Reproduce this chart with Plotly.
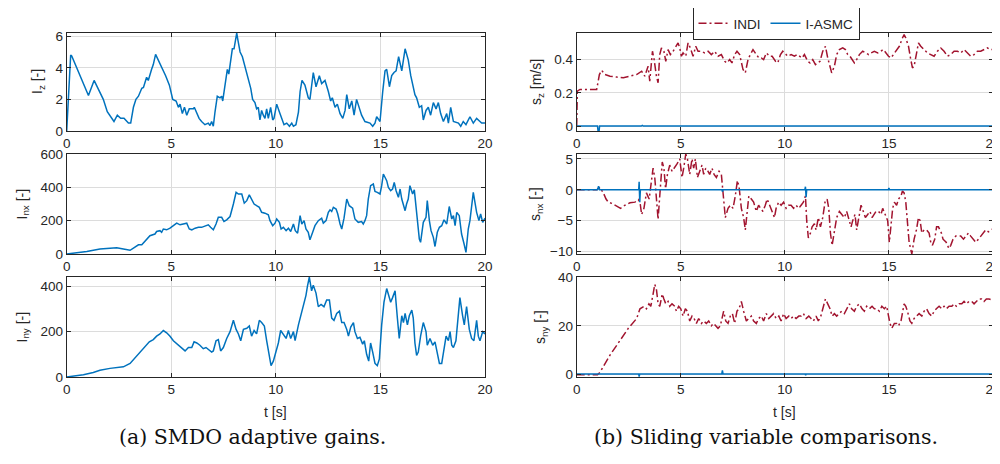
import plotly.graph_objects as go

# ---------------- data ----------------
t_iz = [0.00, 0.19, 0.24, 1.04, 1.31, 1.75, 1.94, 2.26, 2.42, 2.58, 2.74, 2.95, 3.06, 3.19, 3.31, 3.43, 3.59, 3.67,
        3.82, 3.90, 4.06, 4.14, 4.25, 4.38, 4.54, 4.73, 4.91, 4.99, 5.07, 5.23, 5.34, 5.42, 5.53, 5.63, 5.74, 5.86,
        6.06, 6.10, 6.22, 6.33, 6.45, 6.61, 6.77, 6.85, 6.93, 7.01, 7.09, 7.20, 7.33, 7.41, 7.46, 7.57, 7.68, 7.75,
        7.81, 7.92, 8.00, 8.13, 8.18, 8.29, 8.40, 8.53, 8.69, 8.80, 8.89, 9.00, 9.08, 9.16, 9.24, 9.32, 9.40, 9.48,
        9.56, 9.64, 9.75, 9.85, 9.91, 10.04, 10.17, 10.28, 10.39, 10.52, 10.65, 10.76, 10.84, 10.96, 11.08, 11.16,
        11.25, 11.39, 11.55, 11.63, 11.71, 11.79, 11.92, 12.08, 12.19, 12.35, 12.51, 12.62, 12.70, 12.83, 12.94,
        13.07, 13.20, 13.31, 13.39, 13.51, 13.63, 13.74, 13.86, 13.99, 14.10, 14.26, 14.50, 14.63, 14.74, 14.82,
        14.98, 15.11, 15.22, 15.30, 15.43, 15.54, 15.65, 15.75, 15.87, 16.02, 16.10, 16.18, 16.33, 16.45, 16.65,
        16.73, 16.86, 16.97, 17.05, 17.18, 17.29, 17.40, 17.53, 17.66, 17.77, 17.88, 18.01, 18.17, 18.25, 18.36,
        18.49, 18.73, 18.84, 18.96, 19.09, 19.28, 19.44, 19.60, 19.76, 19.84, 20.00]
iz = [0, 4.8, 4.75, 2.25, 3.2, 2.0, 1.22, 0.6, 1.0, 0.8, 0.8, 0.5, 0.5, 1.5, 2.0, 2.2, 2.7, 2.75,
      3.4, 3.2, 3.9, 4.2, 4.85, 4.5, 4.0, 3.5, 2.9, 2.4, 2.0, 1.9, 1.5, 1.7, 1.1, 1.5, 1.0, 1.4,
      1.4, 1.5, 1.1, 0.8, 0.6, 0.4, 0.5, 0.35, 0.6, 0.3, 1.2, 2.2, 2.1, 2.2, 1.9, 2.9, 3.9, 3.6,
      4.2, 5.2, 5.2, 6.2, 5.8, 5.0, 4.7, 4.0, 3.2, 2.7, 2.0, 1.8, 1.4, 1.5, 0.7, 1.3, 1.0, 0.8,
      1.4, 0.8, 1.5, 0.7, 0.8, 1.7, 1.2, 0.8, 0.4, 0.5, 0.3, 0.5, 0.3, 0.4, 1.2, 2.5,
      3.2, 2.9, 2.1, 2.0, 2.8, 3.7, 2.8, 3.5, 3.0, 3.2, 2.5, 1.9, 2.1, 1.5, 1.7,
      1.1, 0.8, 1.3, 2.3, 1.4, 1.9, 1.0, 2.0, 1.5, 1.0, 0.6, 0.5, 0.3, 0.5, 0.9,
      0.6, 2.5, 3.8, 3.9, 2.8, 3.5, 3.7, 3.8, 4.7, 3.8, 4.5, 5.2, 4.5, 3.5, 2.3,
      2.1, 1.5, 1.6, 0.7, 1.3, 1.5, 1.0, 1.8, 1.4, 1.8, 1.1, 0.6, 1.1, 0.5, 1.5,
      0.6, 0.5, 0.3, 0.6, 0.4, 0.9, 0.5, 0.8, 0.6, 0.5, 0.5]

t_inx = [0.00, 0.96, 1.59, 2.39, 2.71, 3.03, 3.19, 3.43, 3.59, 3.82, 3.98, 4.22, 4.30, 4.46, 4.54, 4.62, 4.78,
         4.94, 5.10, 5.26, 5.42, 5.58, 5.74, 5.86, 5.98, 6.14, 6.30, 6.45, 6.61, 6.77, 6.88, 7.01, 7.14, 7.25,
         7.41, 7.52, 7.65, 7.81, 7.97, 8.10, 8.21, 8.37, 8.49, 8.61, 8.73, 8.84, 8.96, 9.08, 9.21, 9.32, 9.48,
         9.64, 9.72, 9.85, 9.96, 10.04, 10.17, 10.25, 10.36, 10.49, 10.60, 10.71, 10.84, 10.93, 11.04, 11.16,
         11.24, 11.35, 11.44, 11.55, 11.63, 11.76, 11.87, 12.03, 12.19, 12.27, 12.40, 12.51, 12.59, 12.67,
         12.75, 12.88, 12.96, 13.07, 13.15, 13.26, 13.39, 13.51, 13.67, 13.78, 13.94, 14.10, 14.18, 14.26,
         14.34, 14.42, 14.53, 14.66, 14.74, 14.85, 14.98, 15.06, 15.14, 15.30, 15.38, 15.49, 15.58, 15.66,
         15.75, 15.86, 15.94, 16.02, 16.10, 16.18, 16.25, 16.33, 16.41, 16.54, 16.62, 16.73, 16.86, 16.92,
         17.05, 17.18, 17.24, 17.34, 17.42, 17.53, 17.61, 17.72, 17.82, 17.93, 18.04, 18.17, 18.29, 18.41,
         18.49, 18.57, 18.65, 18.77, 18.88, 19.00, 19.09, 19.20, 19.28, 19.44, 19.52, 19.60, 19.71, 19.79,
         19.89, 20.00]
inx = [0, 15, 30, 38, 30, 22, 35, 55, 55, 85, 110, 120, 135, 140, 130, 150, 145,
       155, 170, 185, 175, 180, 185, 150, 145, 155, 160, 160, 170, 175, 160, 145, 180, 220,
       220, 195, 205, 225, 300, 370, 360, 360, 305, 320, 355, 330, 300, 290, 280, 250, 245,
       235, 200, 170, 185, 210, 190, 150, 160, 140, 155, 135, 180, 140, 125, 230,
       180, 200, 150, 130, 85, 130, 170, 200, 215, 185, 200, 250, 265, 255,
       280, 270, 240, 180, 150, 215, 330, 290, 275, 210, 190, 195, 180, 200,
       230, 330, 410, 420, 375, 370, 360, 410, 480, 440, 400, 380, 390, 430,
       380, 340, 390, 330, 300, 260, 300, 330, 410, 360, 385, 250, 90, 70,
       190, 220, 320, 200, 140, 100, 45, 130, 160, 170, 205, 180, 285, 210,
       230, 170, 250, 230, 120, 60, 10, 150, 200, 370, 310, 250, 200, 240,
       190, 215]

t_iny = [0.00, 0.80, 1.27, 1.59, 2.07, 2.39, 2.71, 3.03, 3.27, 3.51, 3.75, 3.95, 4.14, 4.30, 4.46, 4.62, 4.78,
         4.94, 5.10, 5.34, 5.50, 5.66, 5.82, 5.98, 6.09, 6.22, 6.37, 6.53, 6.66, 6.82, 6.93, 7.01, 7.14, 7.25,
         7.36, 7.49, 7.65, 7.81, 7.97, 8.10, 8.21, 8.32, 8.45, 8.61, 8.73, 8.84, 8.96, 9.08, 9.21, 9.32, 9.45,
         9.56, 9.69, 9.77, 9.88, 10.01, 10.12, 10.23, 10.36, 10.49, 10.60, 10.71, 10.84, 10.92, 11.08, 11.24,
         11.35, 11.44, 11.51, 11.60, 11.71, 11.79, 11.92, 12.03, 12.16, 12.30, 12.43, 12.56, 12.67, 12.78,
         12.91, 13.04, 13.15, 13.26, 13.39, 13.47, 13.58, 13.71, 13.78, 13.90, 14.02, 14.15, 14.23, 14.34,
         14.44, 14.53, 14.63, 14.74, 14.85, 14.95, 15.06, 15.17, 15.30, 15.38, 15.49, 15.58, 15.70, 15.81,
         15.90, 16.02, 16.10, 16.18, 16.29, 16.38, 16.50, 16.57, 16.65, 16.73, 16.81, 16.92, 17.05, 17.18,
         17.24, 17.37, 17.50, 17.61, 17.72, 17.82, 17.93, 18.01, 18.14, 18.25, 18.33, 18.41, 18.49, 18.61,
         18.68, 18.80, 18.93, 19.01, 19.12, 19.25, 19.36, 19.47, 19.60, 19.68, 19.76, 19.89, 20.00]
iny = [0, 10, 20, 30, 38, 40, 45, 60, 85, 105, 130, 155, 165, 180, 190, 205, 195,
       180, 160, 140, 125, 115, 130, 130, 155, 150, 140, 125, 130, 120, 110, 115, 160, 165,
       115, 130, 170, 200, 250, 210, 190, 160, 210, 215, 225, 180, 205, 190, 250, 240, 225,
       160, 90, 50, 70, 110, 150, 205, 190, 170, 205, 170, 200, 160, 230, 290,
       320, 360, 400, 440, 380, 405, 370, 310, 320, 310, 340, 340, 260, 250,
       280, 290, 240, 240, 210, 180, 220, 240, 200, 170, 175, 145, 160, 100,
       70, 150, 110, 60, 50, 80, 230, 330, 390, 360, 330, 350, 380, 260,
       170, 270, 240, 280, 230, 270, 295, 260, 150, 95, 110, 180, 240, 200,
       140, 170, 140, 155, 110, 60, 60, 100, 180, 160, 200, 140, 130, 160,
       240, 350, 270, 230, 310, 210, 170, 160, 250, 180, 160, 200, 190]

t_sz_indi = [0.00, 0.03, 0.16, 0.96, 1.09, 1.20, 1.36, 1.60, 1.92, 2.24, 2.56, 2.88, 3.12, 3.27, 3.43, 3.51, 3.64,
             3.72, 3.83, 3.91, 3.99, 4.07, 4.19, 4.28, 4.39, 4.50, 4.63, 4.74, 4.87, 4.95, 5.03, 5.11, 5.24, 5.35,
             5.46, 5.59, 5.72, 5.83, 5.99, 6.15, 6.31, 6.47, 6.63, 6.79, 6.95, 7.11, 7.22, 7.35, 7.46, 7.59, 7.70,
             7.83, 7.99, 8.10, 8.23, 8.34, 8.47, 8.63, 8.75, 8.87, 8.98, 9.11, 9.27, 9.39, 9.55, 9.66, 9.79, 9.90,
             10.03, 10.14, 10.30, 10.46, 10.59, 10.70, 10.83, 10.94, 11.10, 11.21, 11.34, 11.47, 11.58, 11.69,
             11.82, 11.95, 12.06, 12.17, 12.25, 12.38, 12.49, 12.62, 12.78, 12.91, 13.02, 13.13, 13.26, 13.34,
             13.45, 13.58, 13.74, 13.90, 14.03, 14.14, 14.30, 14.46, 14.62, 14.73, 14.86, 14.98, 15.10, 15.22,
             15.34, 15.50, 15.65, 15.73, 15.81, 15.94, 16.05, 16.13, 16.21, 16.29, 16.42, 16.53, 16.69, 16.85,
             17.01, 17.17, 17.33, 17.49, 17.65, 17.81, 17.97, 18.13, 18.29, 18.45, 18.61, 18.77, 18.93, 19.09,
             19.25, 19.41, 19.57, 19.73, 19.89, 20.00]
sz_indi = [0.0, 0.21, 0.22, 0.22, 0.31, 0.335, 0.31, 0.30, 0.295, 0.29, 0.30, 0.31, 0.33, 0.30, 0.36, 0.27, 0.45,
           0.40, 0.30, 0.26, 0.43, 0.47, 0.45, 0.39, 0.46, 0.43, 0.45, 0.47, 0.50, 0.47, 0.42, 0.44, 0.42, 0.50,
           0.47, 0.42, 0.48, 0.45, 0.45, 0.44, 0.45, 0.43, 0.45, 0.42, 0.43, 0.39, 0.38, 0.40, 0.38, 0.43, 0.45,
           0.43, 0.34, 0.32, 0.40, 0.43, 0.46, 0.43, 0.41, 0.41, 0.40, 0.44, 0.42, 0.42, 0.39, 0.38, 0.43, 0.45,
           0.43, 0.42, 0.43, 0.42, 0.43, 0.42, 0.41, 0.43, 0.39, 0.38, 0.40, 0.37, 0.38, 0.39,
           0.45, 0.48, 0.41, 0.36, 0.32, 0.36, 0.43, 0.46, 0.47, 0.46, 0.43, 0.42, 0.39, 0.38,
           0.40, 0.43, 0.45, 0.44, 0.43, 0.44, 0.45, 0.44, 0.45, 0.46, 0.44, 0.42, 0.41, 0.43,
           0.45, 0.48, 0.53, 0.55, 0.53, 0.48, 0.40, 0.35, 0.36, 0.42, 0.50, 0.48, 0.46, 0.44,
           0.43, 0.42, 0.45, 0.47, 0.45, 0.42, 0.43, 0.45, 0.45, 0.44, 0.46, 0.44, 0.42, 0.43,
           0.45, 0.45, 0.46, 0.47, 0.46, 0.46]
t_sz_asmc = [0.0, 1.0, 1.05, 1.1, 3.1, 3.15, 3.2, 14.95, 15.0, 15.05, 20.0]
sz_asmc = [0.0, 0.0, -0.06, 0.0, 0.0, 0.004, 0.0, 0.0, 0.004, 0.0, 0.0]

t_snx_indi = [0.00, 0.96, 1.12, 1.28, 1.41, 1.52, 1.68, 1.92, 2.11, 2.32, 2.56, 2.80, 2.96, 3.04, 3.12, 3.23, 3.35,
              3.48, 3.59, 3.67, 3.75, 3.83, 3.91, 3.99, 4.11, 4.19, 4.27, 4.36, 4.47, 4.58, 4.71, 4.82, 4.95, 5.06,
              5.14, 5.24, 5.32, 5.43, 5.54, 5.62, 5.70, 5.80, 5.91, 6.02, 6.10, 6.20, 6.31, 6.39, 6.50, 6.60, 6.71,
              6.84, 6.95, 7.06, 7.14, 7.27, 7.38, 7.51, 7.62, 7.72, 7.80, 7.91, 8.02, 8.10, 8.19, 8.27, 8.39, 8.50,
              8.63, 8.74, 8.83, 8.95, 9.06, 9.15, 9.27, 9.39, 9.50, 9.58, 9.70, 9.82, 9.94, 10.06, 10.18, 10.30,
              10.42, 10.54, 10.67, 10.78, 10.89, 10.99, 11.05, 11.13, 11.23, 11.31, 11.42, 11.50, 11.61, 11.71,
              11.82, 11.93, 12.03, 12.11, 12.19, 12.27, 12.38, 12.49, 12.62, 12.75, 12.86, 12.97, 13.10, 13.18,
              13.26, 13.37, 13.45, 13.55, 13.66, 13.77, 13.87, 13.98, 14.09, 14.19, 14.30, 14.38, 14.50, 14.62,
              14.70, 14.82, 14.94, 15.02, 15.10, 15.18, 15.26, 15.37, 15.46, 15.58, 15.65, 15.73, 15.81, 15.89,
              15.97, 16.10, 16.21, 16.32, 16.42, 16.50, 16.58, 16.69, 16.81, 16.93, 17.01, 17.09, 17.20, 17.29,
              17.38, 17.52, 17.60, 17.75, 17.88, 17.97, 18.08, 18.21, 18.34, 18.45, 18.58, 18.69, 18.82, 18.93,
              19.04, 19.17, 19.30, 19.41, 19.52, 19.65, 19.78, 19.89, 20.00]
snx_indi = [0.0, 0.0, 0.4, -0.5, -1.5, -2.0, -2.2, -2.6, -3.0, -2.5, -2.1, -2.0, -1.6, -2.0, -4.0, -3.0, -0.5,
            -1.5, 1.0, 3.5, 2.0, -2.0, -4.8, -1.0, 4.5, 3.5, 0.2, 2.5, 4.0, 3.0, 3.6, 4.2, 5.0, 2.0,
            3.5, 5.8, 5.0, 2.5, 5.0, 3.5, 5.0, 2.0, 3.0, 4.0, 2.5, 3.5, 3.0, 2.5, 3.5, 2.5, 2.0,
            3.0, 2.5, -2.0, -4.5, -3.0, -2.5, -3.0, -1.0, 1.5, 0.5, -3.0, -4.5, -6.5, -4.0, -1.0, -1.5, -2.0,
            -3.5, -2.5, -3.0, -3.5, -2.5, -1.5, -2.5, -3.5, -4.5, -3.0, -2.0, -2.5, -2.0, -3.0, -2.5, -2.5,
            -3.0, -2.5, -3.0, -2.5, -2.0, -1.0, -5.0, -7.8, -7.0, -6.0, -5.5, -6.5, -4.5, -6.0,
            -4.5, -2.0, -1.5, -3.0, -7.0, -9.0, -7.0, -4.5, -3.5, -4.0, -4.5, -3.5, -5.0, -6.0,
            -5.0, -4.0, -6.5, -4.5, -2.5, -3.5, -4.5, -4.0, -3.5, -4.5, -4.0, -3.5, -3.5, -4.0,
            -3.0, -4.0, -5.0, -8.5, -5.0, -3.0, -2.0, -2.5, -1.5, -1.0, -0.2, -0.5, -2.0, -6.0,
            -8.5, -10.4, -8.0, -6.5, -4.5, -5.0, -7.0, -6.5, -6.5, -7.0, -8.5, -9.0, -8.0, -6.0,
            -6.0, -7.0, -8.0, -8.5, -9.5, -9.0, -8.0, -7.5, -7.5, -7.5, -8.0, -7.5, -7.0, -7.5,
            -8.0, -8.5, -8.0, -7.5, -7.0, -6.5, -6.8, -6.5, -6.3]
t_snx_asmc = [0.0, 1.0, 1.05, 1.1, 2.98, 3.0, 3.03, 3.06, 6.98, 7.0, 7.03, 10.96, 10.99, 11.02, 11.05,
              14.97, 15.0, 15.03, 20.0]
snx_asmc = [0.0, 0.0, 0.6, 0.0, 0.0, 1.3, -2.0, 0.0, 0.0, -0.3, 0.0, 0.0, 0.5, -1.2, 0.0,
            0.0, 0.3, 0.0, 0.0]

t_sny_indi = [0.00, 1.00, 1.12, 1.60, 2.08, 2.48, 2.88, 3.04, 3.23, 3.35, 3.47, 3.56, 3.67, 3.75, 3.83, 3.91, 3.99,
              4.11, 4.19, 4.28, 4.39, 4.47, 4.58, 4.71, 4.79, 4.90, 5.00, 5.11, 5.22, 5.32, 5.43, 5.54, 5.64, 5.75,
              5.86, 5.99, 6.10, 6.23, 6.34, 6.47, 6.58, 6.71, 6.79, 6.90, 7.00, 7.06, 7.16, 7.27, 7.38, 7.48, 7.59,
              7.70, 7.80, 7.91, 8.02, 8.15, 8.26, 8.39, 8.50, 8.63, 8.74, 8.87, 8.98, 9.11, 9.23, 9.35, 9.46, 9.58,
              9.71, 9.82, 9.94, 10.06, 10.19, 10.30, 10.42, 10.54, 10.67, 10.78, 10.89, 11.02, 11.15, 11.26, 11.37,
              11.50, 11.61, 11.73, 11.85, 11.95, 12.06, 12.17, 12.27, 12.38, 12.49, 12.62, 12.73, 12.86, 12.97,
              13.10, 13.21, 13.34, 13.45, 13.58, 13.71, 13.82, 13.93, 14.06, 14.19, 14.30, 14.41, 14.54, 14.66,
              14.78, 14.89, 14.98, 15.05, 15.14, 15.26, 15.37, 15.46, 15.58, 15.65, 15.73, 15.81, 15.89, 16.01,
              16.10, 16.21, 16.32, 16.45, 16.58, 16.69, 16.81, 16.93, 17.06, 17.17, 17.28, 17.41, 17.54, 17.65,
              17.76, 17.89, 18.02, 18.13, 18.24, 18.37, 18.50, 18.61, 18.72, 18.85, 18.98, 19.09, 19.20, 19.33,
              19.46, 19.57, 19.68, 19.81, 20.00]
sny_indi = [0, 0, 1, 8, 14, 19, 23, 27, 28, 27, 29, 28, 33, 37, 35, 29, 28,
            33, 31, 29, 30, 28, 29, 28, 26, 28, 27, 24, 27, 26, 22, 24, 23, 21,
            23, 21, 22, 21, 22, 20, 21, 20, 19, 20, 24, 26, 22, 21, 24, 25, 21,
            26, 27, 30, 26, 22, 23, 24, 22, 21, 23, 24, 22, 25, 23, 24, 25, 23,
            24, 22, 25, 23, 24, 23, 24, 23, 24, 24, 25, 23, 24, 23, 22,
            24, 22, 24, 28, 31, 29, 27, 24, 25, 24, 25, 26, 25, 27,
            29, 27, 26, 28, 29, 27, 26, 28, 27, 28, 27, 27, 26, 28,
            27, 28, 24, 21, 19, 21, 21, 20, 22, 26, 29, 28, 26, 22,
            21, 23, 24, 25, 24, 26, 27, 25, 24, 26, 27, 28, 27, 28,
            27, 28, 28, 29, 28, 29, 29, 30, 29, 30, 30, 29, 30, 31,
            31, 30, 31, 31, 30.5]
t_sny_asmc = [0.0, 2.98, 3.0, 3.03, 6.97, 7.0, 7.03, 10.98, 11.0, 11.02, 20.0]
sny_asmc = [0.3, 0.3, -0.8, 0.3, 0.3, 1.8, 0.3, 0.3, -0.3, 0.3, 0.3]

xticks = [0, 5, 10, 15, 20]
yticks_left = [[0, 2, 4, 6], [0, 200, 400, 600], [0, 200, 400]]
yranges_left = [[0, 6.2], [0, 600], [0, 441]]
yticks_right = [[0, 0.2, 0.4], [-10, -5, 0, 5], [0, 20, 40]]
yranges_right = [[-0.03, 0.56], [-10.4, 5.8], [-0.95, 40]]
ylabels_left = ["I<sub>z</sub> [-]", "I<sub>nx</sub> [-]", "I<sub>ny</sub> [-]"]
ylabels_right = ["s<sub>z</sub> [m/s]", "s<sub>nx</sub> [-]", "s<sub>ny</sub> [-]"]
series_names = ["INDI", "I-ASMC"]
captions = ["(a) SMDO adaptive gains.", "(b) Sliding variable comparisons."]

# ---------------- style ----------------
# The page body has an 8px margin, so the figure is offset by OFF pixels.
OFF = 8
PW, PH = 1000, 464
W, H = PW - OFF, PH - OFF
BLUE = "#0072BD"
RED = "#A2142F"
AX = "#262626"
GRID = "#dcdcdc"
FONT = "Liberation Sans, Arial, sans-serif"


def fx(px):
    return (px - OFF) / W


def fy(py):
    return 1 - (py - OFF) / H


left_dom = [fx(66.7), fx(485)]
right_dom = [fx(576.7), fx(993)]
rows_px = [(33, 131), (154, 254), (277, 377)]
ylab_x_left = [38, 22.5, 22.5]
ylab_x_right = [537, 536, 541]

fig = go.Figure()

left_data = [(t_iz, iz), (t_inx, inx), (t_iny, iny)]
right_data = [((t_sz_indi, sz_indi), (t_sz_asmc, sz_asmc)),
              ((t_snx_indi, snx_indi), (t_snx_asmc, snx_asmc)),
              ((t_sny_indi, sny_indi), (t_sny_asmc, sny_asmc))]

for i in range(3):
    n = i + 1
    fig.add_trace(go.Scatter(x=left_data[i][0], y=left_data[i][1], mode="lines",
                             line=dict(color=BLUE, width=1.5), showlegend=False,
                             xaxis=f"x{n}", yaxis=f"y{n}"))
for i in range(3):
    n = i + 4
    (ti, vi), (ta, va) = right_data[i]
    fig.add_trace(go.Scatter(x=ti, y=vi, mode="lines", name=series_names[0],
                             line=dict(color=RED, width=1.5, dash="8px,3px,2px,3px"),
                             showlegend=(i == 0), xaxis=f"x{n}", yaxis=f"y{n}"))
    fig.add_trace(go.Scatter(x=ta, y=va, mode="lines", name=series_names[1],
                             line=dict(color=BLUE, width=1.5),
                             showlegend=(i == 0), xaxis=f"x{n}", yaxis=f"y{n}"))

common_axis = dict(showline=True, linecolor=AX, linewidth=1, mirror="ticks",
                   ticks="inside", ticklen=4, tickcolor=AX, showgrid=True,
                   gridcolor=GRID, gridwidth=1, zeroline=False, automargin=False,
                   ticklabeloverflow="allow",
                   tickfont=dict(family=FONT, size=13.5, color=AX))

layout = {}
for i in range(6):
    n = i + 1
    side_left = i < 3
    r = i % 3
    top, bot = rows_px[r]
    xk = "xaxis" if n == 1 else f"xaxis{n}"
    yk = "yaxis" if n == 1 else f"yaxis{n}"
    layout[xk] = dict(common_axis, domain=left_dom if side_left else right_dom,
                      anchor=f"y{n}", range=[0, 20], tickvals=xticks)
    layout[yk] = dict(common_axis, domain=[fy(bot), fy(top)], anchor=f"x{n}",
                      range=(yranges_left if side_left else yranges_right)[r],
                      tickvals=(yticks_left if side_left else yticks_right)[r])

annotations = []
for r in range(3):
    top, bot = rows_px[r]
    yc = fy((top + bot) / 2)
    annotations.append(dict(text=ylabels_left[r], x=fx(ylab_x_left[r]), y=yc, xref="paper", yref="paper",
                            textangle=-90, showarrow=False, xanchor="center", yanchor="middle",
                            font=dict(family=FONT, size=14, color=AX)))
    annotations.append(dict(text=ylabels_right[r], x=fx(ylab_x_right[r]), y=yc, xref="paper", yref="paper",
                            textangle=-90, showarrow=False, xanchor="center", yanchor="middle",
                            font=dict(family=FONT, size=14, color=AX)))
for cx in [(66.7 + 485) / 2, (576.7 + 993) / 2]:
    annotations.append(dict(text="t [s]", x=fx(cx), y=fy(412), xref="paper", yref="paper",
                            showarrow=False, xanchor="center", yanchor="middle",
                            font=dict(family=FONT, size=14, color=AX)))
for cx, cap in zip([252, 766], captions):
    annotations.append(dict(text=cap, x=fx(cx), y=fy(437), xref="paper", yref="paper",
                            showarrow=False, xanchor="center", yanchor="middle",
                            font=dict(family="DejaVu Serif, serif", size=20.5, color="#111111")))

fig.update_layout(
    width=W, height=H,
    margin=dict(l=0, r=0, t=0, b=0, autoexpand=False),
    paper_bgcolor="white", plot_bgcolor="white",
    showlegend=True,
    legend=dict(orientation="h", x=fx(776), xanchor="center", y=fy(7), yanchor="top",
                bordercolor=AX, borderwidth=1, bgcolor="white",
                font=dict(family=FONT, size=13.5, color=AX), itemwidth=30,
                tracegroupgap=0),
    annotations=annotations,
    **layout,
)

fig.write_html("out.html")
